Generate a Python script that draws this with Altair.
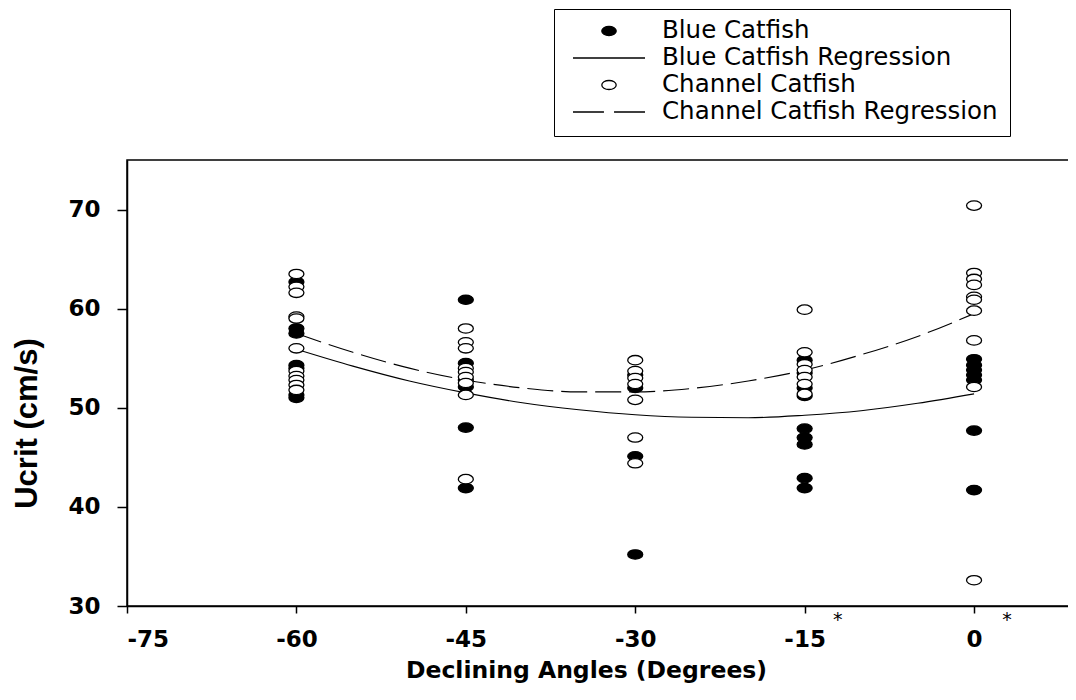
import altair as alt
import pandas as pd

# ---------------- data ----------------
angles = [-60, -45, -30, -15, 0]

blue_m60 = [62.7, 58.0, 57.5, 54.3, 54.0, 51.3, 51.0]
blue_m45 = [60.9, 54.5, 52.8, 52.1, 48.0, 41.9]
blue_m30 = [53.3, 52.0, 45.1, 35.2]
blue_m15 = [54.8, 53.5, 52.0, 51.2, 47.9, 47.0, 46.3, 42.9, 41.9]
blue_0 = [54.9, 54.3, 53.8, 53.3, 52.8, 47.7, 41.7]

chan_m60 = [63.5, 62.2, 61.6, 59.2, 59.0, 56.0, 53.7, 53.2, 52.8, 52.3, 51.8]
chan_m45 = [58.0, 56.6, 56.0, 54.0, 53.6, 53.1, 52.5, 51.3, 42.8]
chan_m30 = [54.8, 53.7, 53.0, 52.4, 50.8, 47.0, 44.4]
chan_m15 = [59.9, 55.6, 54.4, 53.8, 53.1, 52.4, 51.4]
chan_0 = [70.4, 63.6, 63.0, 62.4, 61.2, 60.9, 59.8, 56.8, 52.1, 32.6]

curve_x = [-60, -55, -50, -45, -40, -35, -30, -25, -20, -15, -10, -5, 0]
blue_fit = [55.9, 54.2, 52.7, 51.5, 50.5, 49.8, 49.3, 49.05, 49.0, 49.25, 49.7, 50.45, 51.4]
chan_fit = [57.5, 55.6, 54.0, 52.8, 52.0, 51.6, 51.6, 51.95, 52.7, 53.8, 55.35, 57.2, 59.5]

series_names = ["Blue Catfish", "Blue Catfish Regression",
                "Channel Catfish", "Channel Catfish Regression"]
starred_angles = [-15, 0]

# ---------------- tables ----------------
rows = []
for ang, vals in zip(angles, [blue_m60, blue_m45, blue_m30, blue_m15, blue_0]):
    for v in vals:
        rows.append({"angle": ang, "ucrit": v, "series": "Blue Catfish"})
for ang, vals in zip(angles, [chan_m60, chan_m45, chan_m30, chan_m15, chan_0]):
    for v in vals:
        rows.append({"angle": ang, "ucrit": v, "series": "Channel Catfish"})
points = pd.DataFrame(rows)

curves = pd.DataFrame(
    [{"angle": a, "ucrit": v, "series": "Blue Catfish Regression"} for a, v in zip(curve_x, blue_fit)]
    + [{"angle": a, "ucrit": v, "series": "Channel Catfish Regression"} for a, v in zip(curve_x, chan_fit)]
)
stars = pd.DataFrame({"angle": starred_angles, "mark": ["*", "*"]})

# ---------------- symbols ----------------
ellipse = ("M 0.2 0 C 0.2 0.069 0.11 0.125 0 0.125 C -0.11 0.125 -0.2 0.069 -0.2 0 "
           "C -0.2 -0.069 -0.11 -0.125 0 -0.125 C 0.11 -0.125 0.2 -0.069 0.2 0 Z")
solid_line = "M -1 0 L 1 0"
dash_line = "M -1 0 L -0.14 0 M 0.14 0 L 1 0"

FONT = "DejaVu Sans"

x_scale = alt.Scale(domain=[-75, 10], nice=False, zero=False)
y_scale = alt.Scale(domain=[30, 75], nice=False, zero=False)

x_axis = alt.Axis(values=[-75, -60, -45, -30, -15, 0], title="Declining Angles (Degrees)",
                  labelExpr="toString(datum.value)",
                  labelFont=FONT, labelFontWeight="bold", labelFontSize=23, labelColor="black",
                  labelPadding=15, tickSize=7, tickWidth=1.5, tickColor="black",
                  domainColor="black", domainWidth=1.5, grid=False,
                  titleFont=FONT, titleFontWeight="bold", titleFontSize=23.5, titleColor="black",
                  titlePadding=7, titleX=459, titleAlign="center")
y_axis = alt.Axis(values=[30, 40, 50, 60, 70], title="Ucrit (cm/s)",
                  labelExpr="toString(datum.value)",
                  labelFont=FONT, labelFontWeight="bold", labelFontSize=23, labelColor="black",
                  labelPadding=17, tickSize=10, tickWidth=1.5, tickColor="black",
                  domainColor="black", domainWidth=1.5, grid=False,
                  titleFont="Liberation Sans", titleFontWeight="bold", titleFontSize=31,
                  titleColor="black", titleX=-100, titleY=263, titleAlign="center",
                  titleBaseline="middle", titleAngle=270)

legend = alt.Legend(title=None, orient="none", legendX=427, legendY=-151,
                    symbolSize=5184, clipHeight=20, rowPadding=2, padding=12,
                    strokeColor="black", fillColor="white", cornerRadius=0,
                    labelFont=FONT, labelFontSize=24.5, labelColor="black", labelLimit=900,
                    labelOffset=16, symbolOffset=6, symbolStrokeColor="black",
                    symbolStrokeWidth=1.3, symbolOpacity=1)

X = alt.X("angle:Q", scale=x_scale, axis=x_axis)
Y = alt.Y("ucrit:Q", scale=y_scale, axis=y_axis)

blue_curve = alt.Chart(curves).transform_filter(
    alt.datum.series == "Blue Catfish Regression"
).mark_line(color="black", strokeWidth=1.1, interpolate="monotone").encode(x=X, y=Y)

chan_curve = alt.Chart(curves).transform_filter(
    alt.datum.series == "Channel Catfish Regression"
).mark_line(color="black", strokeWidth=1.1, interpolate="monotone",
            strokeDash=[26, 8]).encode(x=X, y=Y)

pts = alt.Chart(points).mark_point(size=5625, strokeWidth=1.3, opacity=1).encode(
    x=X, y=Y,
    shape=alt.Shape("series:N", scale=alt.Scale(domain=series_names,
                                               range=[ellipse, solid_line, ellipse, dash_line]),
                    legend=legend),
    fill=alt.Fill("series:N", scale=alt.Scale(domain=series_names,
                                             range=["black", "transparent", "white", "transparent"]),
                  legend=legend),
    stroke=alt.Stroke("series:N", scale=alt.Scale(domain=series_names,
                                                 range=["black", "black", "black", "black"]),
                      legend=legend),
)

star_text = alt.Chart(stars).mark_text(font=FONT, fontSize=19, dx=33, baseline="middle",
                                       fill="black").encode(
    x=X, y=alt.value(460), text="mark:N"
)

chart = alt.layer(blue_curve, chan_curve, pts, star_text).properties(
    width=960, height=446,
    autosize=alt.AutoSizeParams(type="none"),
    padding={"left": 119, "top": 152, "right": -19, "bottom": 82},
).configure_view(stroke="black", strokeWidth=1.5)

chart.save("out.html", embed_options={"renderer": "svg", "actions": False})
